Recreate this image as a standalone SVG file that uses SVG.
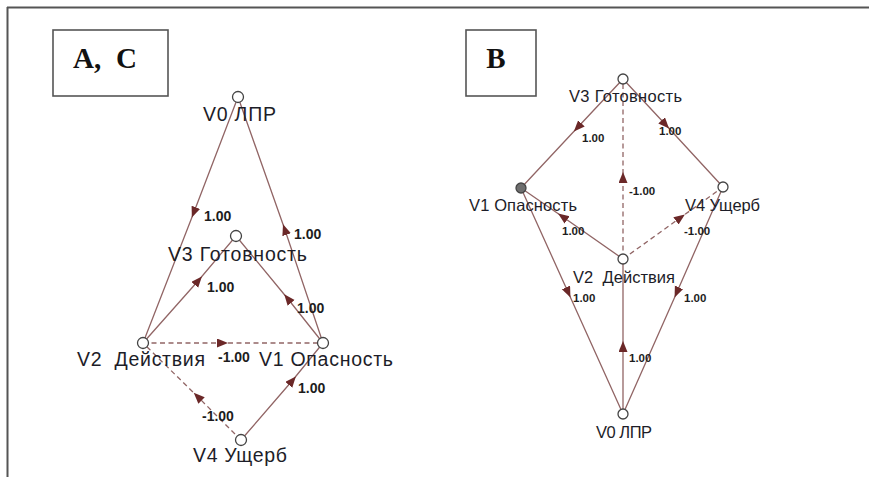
<svg xmlns="http://www.w3.org/2000/svg" width="869" height="477" viewBox="0 0 869 477">
<style>
.frame{stroke:#555;stroke-width:2;fill:none}
.box{fill:#fff;stroke:#555;stroke-width:1.6}
.boxt{font-family:"Liberation Serif",serif;font-weight:bold;font-size:29px;fill:#111;white-space:pre}
.e{stroke:#916565;stroke-width:1.3;fill:none;marker-mid:url(#ar)}
.d{stroke-dasharray:5 3.5}
.n{fill:#fff;stroke:#444;stroke-width:1.3}
.nf{fill:#6e6e6e;stroke:#444;stroke-width:1.3}
.lL{font-family:"Liberation Sans",Arial,sans-serif;font-size:19.5px;fill:#1d1d28;white-space:pre}
.lR{font-family:"Liberation Sans",Arial,sans-serif;font-size:16.5px;fill:#1d1d28;white-space:pre}
.vL{font-family:"Liberation Sans",Arial,sans-serif;font-weight:bold;font-size:14px;fill:#1d1d1d}
.vR{font-family:"Liberation Sans",Arial,sans-serif;font-weight:bold;font-size:11.5px;fill:#1d1d1d}
</style>
<defs>
<marker id="ar" markerUnits="userSpaceOnUse" markerWidth="12" markerHeight="10" refX="5" refY="4.5" orient="auto">
<path d="M0,0 L11,4.5 L0,9 Z" fill="#6b2828"/>
</marker>
</defs>
<rect width="869" height="477" fill="#fff"/>
<g id="frame">
<line class="frame" x1="7" y1="7.5" x2="869" y2="7.5" stroke="#3a3a3a"/>
<line class="frame" x1="7.5" y1="7" x2="7.5" y2="477" stroke="#888"/>
</g>
<g id="label-AC"><rect class="box" x="53" y="30" width="115" height="66"/><text class="boxt" x="73" y="68" xml:space="preserve" textLength="64">A,  C</text></g>
<g id="label-B"><rect class="box" x="466" y="30" width="70" height="66"/><text class="boxt" x="496" y="68" text-anchor="middle">B</text></g>

<g id="connectors-left">
<path class="e" d="M238,97 L194,212 L143,343"/>
<path class="e" d="M323,343 L285,230 L238,97"/>
<path class="e" d="M143,343 L198,281 L236,236"/>
<path class="e" d="M323,343 L288,299 L236,236"/>
<path class="e d" d="M143,343 L222,343 L323,343"/>
<path class="e" d="M241,440 L292,381 L323,343"/>
<path class="e d" d="M241,440 L198,397 L143,343"/>
</g>
<g id="edge-labels-left">
<text class="vL" x="204" y="221">1.00</text>
<text class="vL" x="294" y="239">1.00</text>
<text class="vL" x="207" y="292">1.00</text>
<text class="vL" x="297" y="313">1.00</text>
<text class="vL" x="218" y="362">-1.00</text>
<text class="vL" x="298" y="393">1.00</text>
<text class="vL" x="202" y="421">-1.00</text>
</g>
<g id="L-V0"><circle class="n" cx="238" cy="97" r="5.5"/><text class="lL" x="203" y="121" textLength="73">V0 ЛПР</text></g>
<g id="L-V3"><circle class="n" cx="236" cy="236" r="5.5"/><text class="lL" x="168" y="261" textLength="139">V3 Готовность</text></g>
<g id="L-V2"><circle class="n" cx="143" cy="343" r="5.5"/><text class="lL" x="77" y="366" xml:space="preserve" textLength="128">V2  Действия</text></g>
<g id="L-V1"><circle class="n" cx="323" cy="343" r="5.5"/><text class="lL" x="259" y="366" textLength="134">V1 Опасность</text></g>
<g id="L-V4"><circle class="n" cx="241" cy="440" r="5.5"/><text class="lL" x="193" y="462" textLength="94">V4 Ущерб</text></g>

<g id="connectors-right">
<path class="e" d="M623,79 L578,127 L521,188"/>
<path class="e" d="M623,79 L665,124 L723,187"/>
<path class="e d" d="M623,259 L623,178 L623,79"/>
<path class="e" d="M623,259 L563,217 L521,188"/>
<path class="e d" d="M623,259 L680,218 L723,187"/>
<path class="e" d="M521,188 L568,292 L623,414"/>
<path class="e" d="M723,187 L677,292 L623,414"/>
<path class="e" d="M623,414 L623,347 L623,259"/>
</g>
<g id="edge-labels-right">
<text class="vR" x="582" y="142">1.00</text>
<text class="vR" x="659" y="135">1.00</text>
<text class="vR" x="629" y="195">-1.00</text>
<text class="vR" x="562" y="235">1.00</text>
<text class="vR" x="684" y="235">-1.00</text>
<text class="vR" x="573" y="302">1.00</text>
<text class="vR" x="684" y="302">1.00</text>
<text class="vR" x="629" y="362">1.00</text>
</g>
<g id="R-V3"><circle class="n" cx="623" cy="79" r="5"/><text class="lR" x="569" y="102" textLength="113">V3 Готовность</text></g>
<g id="R-V1"><circle class="nf" cx="521" cy="188" r="5"/><text class="lR" x="469" y="211" textLength="108">V1 Опасность</text></g>
<g id="R-V4"><circle class="n" cx="723" cy="187" r="5"/><text class="lR" x="685" y="211" textLength="75">V4 Ущерб</text></g>
<g id="R-V2"><circle class="n" cx="623" cy="259" r="5"/><text class="lR" x="573" y="283" xml:space="preserve" textLength="102">V2  Действия</text></g>
<g id="R-V0"><circle class="n" cx="623" cy="414" r="5"/><text class="lR" x="596" y="438" textLength="56">V0 ЛПР</text></g>
</svg>
